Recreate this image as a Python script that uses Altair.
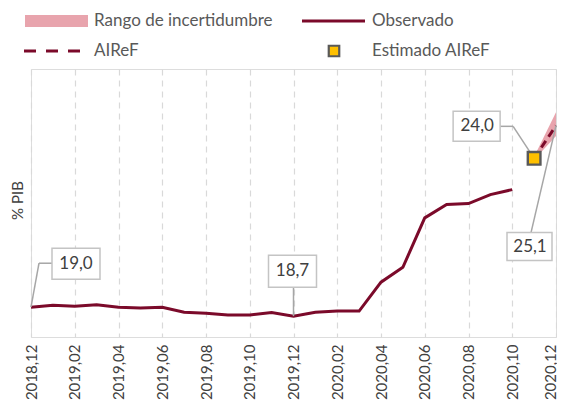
import altair as alt
import pandas as pd

# ---------------- data ----------------
months = ["2018,12", "2019,01", "2019,02", "2019,03", "2019,04", "2019,05", "2019,06",
          "2019,07", "2019,08", "2019,09", "2019,10", "2019,11", "2019,12",
          "2020,01", "2020,02", "2020,03", "2020,04", "2020,05", "2020,06",
          "2020,07", "2020,08", "2020,09", "2020,10", "2020,11", "2020,12"]
obs_months = months[:23]
observado = [19.0, 19.07, 19.03, 19.08, 19.0, 18.97, 19.0, 18.83, 18.8, 18.74, 18.74,
             18.82, 18.7, 18.83, 18.87, 18.87, 19.84, 20.34, 22.0, 22.45, 22.48, 22.78, 22.95]
airef_months = ["2020,11", "2020,12"]
airef = [24.0, 25.1]
band_lo = [23.95, 24.75]
band_hi = [24.05, 25.55]
estimado_month = "2020,11"
estimado = 24.0
tick_months = months[::2]

legend_labels = ["Rango de incertidumbre", "Observado", "AIReF", "Estimado AIReF"]

MAROON = "#7b0a2a"
PINK = "#e59aa4"
GOLD = "#ffc000"
DARK = "#595959"
TXT = "#404040"
FONT = "Lato"

X = alt.X("mes:O",
          scale=alt.Scale(domain=months, type="point", padding=0),
          axis=alt.Axis(values=tick_months, labelAngle=270, title=None, grid=True,
                        gridDash=[6, 5], gridColor="#d9d9d9", gridWidth=1.2,
                        ticks=False, domain=False, labelPadding=7, labelFontSize=15,
                        labelColor=TXT, labelFont=FONT,
                        labelOffset={"condition": {"test": "datum.value == '2020,12'",
                                                   "value": -6}, "value": 0}))
Y = alt.Y("v:Q",
          scale=alt.Scale(domain=[18, 27], nice=False, zero=False),
          axis=alt.Axis(labels=False, ticks=False, domain=False, grid=False,
                        title="% PIB", titleFont=FONT, titleFontSize=15,
                        titleFontWeight="normal", titleColor=TXT,
                        titleX=-14, titleY=131, titleAngle=270, titleBaseline="middle"))

obs_df = pd.DataFrame({"mes": obs_months, "v": observado})
airef_df = pd.DataFrame({"mes": airef_months, "v": airef})
band_df = pd.DataFrame({"mes": airef_months, "v": band_lo, "hi": band_hi})
est_df = pd.DataFrame({"mes": [estimado_month], "v": [estimado]})

band = alt.Chart(band_df).mark_area(color=PINK, opacity=0.9).encode(
    x=X, y=Y, y2=alt.Y2("hi"))
line_obs = alt.Chart(obs_df).mark_line(color=MAROON, strokeWidth=3).encode(x=X, y=Y)
line_airef = alt.Chart(airef_df).mark_line(color=MAROON, strokeWidth=3,
                                           strokeDash=[8, 5]).encode(x=X, y=Y)
square = alt.Chart(est_df).mark_square(size=160, fill=GOLD, stroke=DARK,
                                       strokeWidth=2.4, opacity=1).encode(x=X, y=Y)


def annotation(month, value, label, box, text_off, segments):
    df = pd.DataFrame({"mes": [month], "v": [value], "t": [label]})
    base = alt.Chart(df)
    layers = []
    for (x0, y0, x1, y1) in segments:
        layers.append(base.mark_rule(color="#a6a6a6", strokeWidth=1.5,
                                     xOffset=x0, yOffset=y0, x2Offset=x1, y2Offset=y1)
                      .encode(x=X, y=Y, x2=alt.X2("mes"), y2=alt.Y2("v")))
    bx0, by0, bx1, by1 = box
    layers.append(base.mark_rect(fill="white", stroke="#c4c4c4", strokeWidth=1.5,
                                 xOffset=bx0, yOffset=by0, x2Offset=bx1, y2Offset=by1)
                  .encode(x=X, y=Y, x2=alt.X2("mes"), y2=alt.Y2("v")))
    layers.append(base.mark_text(font=FONT, fontSize=17, color=TXT, align="center",
                                 baseline="middle", dx=text_off[0], dy=text_off[1])
                  .encode(x=X, y=Y, text="t:N"))
    return layers


def fmt(v):
    return f"{v:.1f}".replace(".", ",")


ann = []
ann += annotation(months[0], observado[0], fmt(observado[0]),
                  (21, -59, 69, -28), (45, -43),
                  [(0, 0, 8, -44), (8, -44, 21, -44)])
ann += annotation(months[12], observado[12], fmt(observado[12]),
                  (-25, -61, 23, -29), (-1, -45),
                  [(0, 0, 0, -29)])
ann += annotation(estimado_month, estimado, fmt(estimado),
                  (-81, -47, -34, -17), (-57, -32),
                  [(0, 0, -21, -32), (-21, -32, -34, -32)])
ann += annotation(airef_months[1], airef[1], fmt(airef[1]),
                  (-49, 107, -4, 135), (-26, 121),
                  [(0, 0, -25, 107)])

# ---------------- legend (manual) ----------------
dummy = alt.Chart(pd.DataFrame({"a": [0]}))
leg = [
    dummy.mark_rule(color=PINK, strokeWidth=12, opacity=0.9).encode(
        x=alt.value(-6), x2=alt.value(57), y=alt.value(-48)),
    dummy.mark_rule(color=MAROON, strokeWidth=3).encode(
        x=alt.value(271), x2=alt.value(334), y=alt.value(-48)),
    dummy.mark_rule(color=MAROON, strokeWidth=3, strokeDash=[12, 10]).encode(
        x=alt.value(-7), x2=alt.value(55), y=alt.value(-18)),
    dummy.mark_square(size=110, fill=GOLD, stroke=DARK, strokeWidth=2.2, opacity=1).encode(
        x=alt.value(303), y=alt.value(-18)),
]
for lab, (lx, ly) in zip(legend_labels, [(63, -48), (341, -48), (63, -18), (341, -18)]):
    leg.append(dummy.mark_text(font=FONT, fontSize=17, color=DARK, align="left",
                               baseline="middle", text=lab)
               .encode(x=alt.value(lx), y=alt.value(ly)))

chart = alt.layer(band, line_obs, line_airef, *ann, square, *leg).properties(
    width=525, height=268,
    autosize=alt.AutoSizeParams(type="none"),
    padding={"left": 23, "top": 61, "right": 1, "bottom": 64},
).configure_view(stroke="#a6a6a6", strokeWidth=1.5).configure(background="white")

chart.save("out.html", embed_options={"renderer": "svg", "actions": False})
